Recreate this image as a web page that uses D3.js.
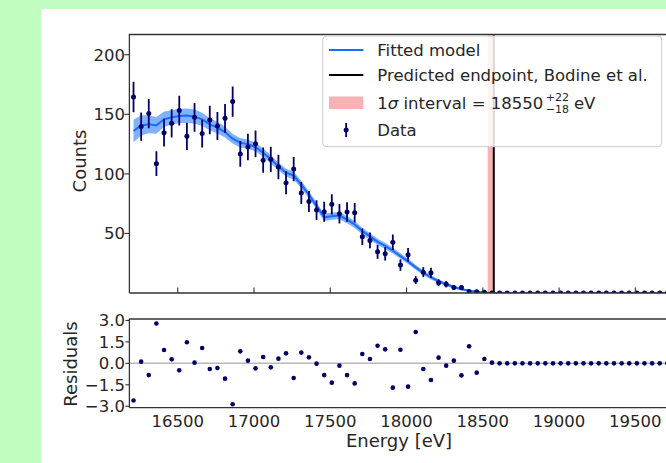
<!DOCTYPE html>
<html><head><meta charset="utf-8">
<script src="https://cdn.jsdelivr.net/npm/d3@7"></script>
<style>html,body{margin:0;padding:0;background:#c1fcc1;}svg{display:block;font-family:"DejaVu Sans",sans-serif;}</style>
</head><body>
<svg id="c" width="666" height="463"></svg>
<script>
const energy = [16210,16260,16310,16360,16410,16460,16510,16560,16610,16660,16710,16760,16810,16860,16910,16960,17010,17060,17110,17160,17210,17260,17310,17360,17410,17460,17510,17560,17610,17660,17710,17760,17810,17860,17910,17960,18010,18060,18110,18160,18210,18260,18310,18360,18410,18460,18510,18560,18610,18660,18710,18760,18810,18860,18910,18960,19010,19060,19110,19160,19210,19260,19310,19360,19410,19460,19510,19560,19610,19660,19710,19760,19810];
const counts = [164.5,139.7,150.6,108.6,134.6,142.4,153.1,131.5,147.5,133.8,145.2,140.2,146.6,160.7,116.7,122.5,125.2,111.5,112.2,105.7,92.6,104.0,83.9,76.9,69.6,68.2,74.4,66.5,68.0,67.4,47.2,44.1,34.6,32.9,42.7,23.4,32.1,10.8,17.5,17.0,8.6,7.4,4.6,4.6,1.3,1.0,0.6,0,0,0,0,0,0,0,0,0,0,0,0,0,0,0,0,0,0,0,0,0,0,0,0,0,0];
const countErr = [12.8,11.8,12.3,10.4,11.6,11.9,12.4,11.5,12.1,11.6,12.0,11.8,12.1,12.7,10.8,11.1,11.2,10.6,10.6,10.3,9.6,10.2,9.2,8.8,8.3,8.3,8.6,8.2,8.2,8.2,6.9,6.6,5.9,5.7,6.5,4.8,5.7,3.3,4.2,4.1,2.9,2.7,2.1,2.1,1.1,1.0,0.8,0,0,0,0,0,0,0,0,0,0,0,0,0,0,0,0,0,0,0,0,0,0,0,0,0,0];
const model = [136,140.7,141.6,140.7,145.8,147.5,148.6,148.9,148,145.8,141.6,138.8,135.1,129.5,126.2,124.8,122.5,117.8,112.2,106.3,101,98.5,91,82.5,73,63.5,64.5,65,61.5,57.5,52,47.5,43,39.5,35.5,31,26.5,21.5,17,13.2,10,7.3,5,3.2,2,1.1,0.5,0.1,0,0,0,0,0,0,0,0,0,0,0,0,0,0,0,0,0,0,0,0,0,0,0,0,0];
const modelBand = [9.5,8.5,7.5,7,6.5,6,6,6,6,5.5,5,5,4.5,4,4,3.8,3.6,3.5,3.4,3.3,3.2,3.2,3.2,3,3,3,3,3,3,3,2.8,2.7,2.6,2.5,2.4,2.3,2.2,2,1.9,1.8,1.6,1.4,1.2,1,0.8,0.6,0.4,0.2,0,0,0,0,0,0,0,0,0,0,0,0,0,0,0,0,0,0,0,0,0,0,0,0,0];
const residuals = [-2.6,0.12,-0.82,2.79,0.93,0.28,-0.49,1.47,0.05,1.07,-0.40,-0.33,-1.07,-2.86,0.84,0.19,-0.35,0.44,-0.28,0.33,0.70,-1.02,0.75,0.42,-0.02,-0.82,-1.35,-0.16,-0.82,-1.40,0.65,0.30,1.23,0.98,-1.70,0.95,-1.63,2.19,-0.40,-1.16,0.40,-0.16,0.19,-0.84,1.19,-0.65,0.30,0.05,0,0,0,0,0,0,0,0,0,0,0,0,0,0,0,0,0,0,0,0,0,0,0,0,0];
const xTicks = [16500,17000,17500,18000,18500,19000,19500];
const yTicksTop = [50,100,150,200];
const yTicksRes = [-3.0,-1.5,0.0,1.5,3.0];
const endpointFit = 18550, endpointLo = 18532, endpointHi = 18572;
const endpointBodine = 18572;
const legendLabels = ["Fitted model","Predicted endpoint, Bodine et al.","1σ interval = 18550","Data"];

const svg = d3.select("#c");
const W = 666, H = 463;
svg.append("rect").attr("x",0).attr("y",0).attr("width",W).attr("height",H).attr("fill","#c1fcc1");
svg.append("rect").attr("x",41).attr("y",9).attr("width",W-41).attr("height",H-9).attr("fill","#ffffff");

const L = 129.4, R = 681.1;
const x = d3.scaleLinear().domain([16183,19800]).range([L,R]);
const topT = 34.5, topB = 293;
const y = d3.scaleLinear().domain([0,217]).range([topB,topT]);
const resT = 319, resB = 407.7;
const yr = d3.scaleLinear().domain([-3.1,3.1]).range([resB,resT]);
const axisCol = "#333333", textCol = "#262626";
const data = energy.map((e,i)=>({e, c:counts[i], err:countErr[i], m:model[i], b:modelBand[i], r:residuals[i]}));

const defs = svg.append("defs");
defs.append("clipPath").attr("id","clipTop").append("rect").attr("x",L).attr("y",topT).attr("width",R-L).attr("height",topB-topT);
defs.append("clipPath").attr("id","clipRes").append("rect").attr("x",L).attr("y",resT).attr("width",R-L).attr("height",resB-resT);

// ---- Top panel ----
const gTop = svg.append("g").attr("clip-path","url(#clipTop)");
gTop.append("rect").attr("x",x(endpointLo)).attr("y",topT).attr("width",x(endpointHi)-x(endpointLo)).attr("height",topB-topT).attr("fill","#f08080").attr("opacity",0.6);
gTop.append("line").attr("x1",x(endpointBodine)).attr("x2",x(endpointBodine)).attr("y1",topT).attr("y2",topB).attr("stroke","#000").attr("stroke-width",2);
gTop.append("path").datum(data).attr("fill","#1a72ff").attr("opacity",0.55)
  .attr("d", d3.area().x(d=>x(d.e)).y0(d=>y(d.m-d.b)).y1(d=>y(d.m+d.b)));
gTop.append("path").datum(data).attr("fill","none").attr("stroke","#1a6cff").attr("stroke-width",2)
  .attr("d", d3.line().x(d=>x(d.e)).y(d=>y(d.m)));
gTop.selectAll("line.err").data(data.filter(d=>d.err>0)).enter().append("line")
  .attr("x1",d=>x(d.e)).attr("x2",d=>x(d.e)).attr("y1",d=>y(d.c-d.err)).attr("y2",d=>y(d.c+d.err))
  .attr("stroke","#000066").attr("stroke-width",1.8);
gTop.selectAll("circle").data(data).enter().append("circle")
  .attr("cx",d=>x(d.e)).attr("cy",d=>y(d.c)).attr("r",2.5).attr("fill","#000066");

// frame top
const fTop = svg.append("g");
fTop.append("path").attr("d",`M${L},${topB}V${topT}H${W+10}M${L},${topB}H${W+10}`).attr("fill","none").attr("stroke",axisCol).attr("stroke-width",1.3);
xTicks.forEach(t=>{
  fTop.append("line").attr("x1",x(t)).attr("x2",x(t)).attr("y1",topB).attr("y2",topB-5.5).attr("stroke",axisCol).attr("stroke-width",1.1);
});
yTicksTop.forEach(t=>{
  fTop.append("line").attr("x1",L-5).attr("x2",L).attr("y1",y(t)).attr("y2",y(t)).attr("stroke",axisCol).attr("stroke-width",1.1);
  fTop.append("text").attr("x",L-4.5).attr("y",y(t)).attr("dy","0.36em").attr("text-anchor","end").attr("font-size",16.5).attr("fill",textCol).text(t);
});
svg.append("text").attr("transform","translate(85.5,161) rotate(-90)").attr("text-anchor","middle").attr("font-size",18).attr("fill",textCol).text("Counts");

// legend
const lg = svg.append("g");
lg.append("rect").attr("x",322.7).attr("y",36).attr("width",339).attr("height",110.7).attr("rx",4)
  .attr("fill","#ffffff").attr("fill-opacity",0.85).attr("stroke","#cccccc").attr("stroke-width",1);
const hx0 = 329, hx1 = 363.3, tx = 377.3;
const rowsY = [50,75,102.5,130];
lg.append("line").attr("x1",hx0).attr("x2",hx1).attr("y1",rowsY[0]).attr("y2",rowsY[0]).attr("stroke","#1a6cff").attr("stroke-width",2);
lg.append("line").attr("x1",hx0).attr("x2",hx1).attr("y1",rowsY[1]).attr("y2",rowsY[1]).attr("stroke","#000").attr("stroke-width",2);
lg.append("rect").attr("x",hx0).attr("y",rowsY[2]-6).attr("width",hx1-hx0).attr("height",12.5).attr("fill","#f08080").attr("opacity",0.6);
lg.append("line").attr("x1",(hx0+hx1)/2).attr("x2",(hx0+hx1)/2).attr("y1",rowsY[3]-7).attr("y2",rowsY[3]+7).attr("stroke","#000066").attr("stroke-width",1.8);
lg.append("circle").attr("cx",(hx0+hx1)/2).attr("cy",rowsY[3]).attr("r",2.5).attr("fill","#000066");
const fs = 16.5;
lg.append("text").attr("x",tx).attr("y",rowsY[0]+6).attr("font-size",fs).attr("fill",textCol).text(legendLabels[0]);
lg.append("text").attr("x",tx).attr("y",rowsY[1]+6).attr("font-size",fs).attr("fill",textCol).text(legendLabels[1]);
const t3 = lg.append("text").attr("x",tx).attr("y",rowsY[2]+6).attr("font-size",fs).attr("fill",textCol);
t3.append("tspan").text("1");
t3.append("tspan").attr("font-style","italic").text("σ");
t3.append("tspan").text(legendLabels[2].slice(2));
const w3 = t3.node().getComputedTextLength();
const sx = tx + w3 + 2.5;
const sup = lg.append("text").attr("x",sx).attr("y",rowsY[2]-2).attr("font-size",11).attr("fill",textCol).text("+22");
const sub = lg.append("text").attr("x",sx).attr("y",rowsY[2]+10.5).attr("font-size",11).attr("fill",textCol).text("−18");
const sw = Math.max(sup.node().getComputedTextLength(), sub.node().getComputedTextLength());
lg.append("text").attr("x",sx+sw+5).attr("y",rowsY[2]+6).attr("font-size",fs).attr("fill",textCol).text("eV");
lg.append("text").attr("x",tx).attr("y",rowsY[3]+6).attr("font-size",fs).attr("fill",textCol).text(legendLabels[3]);

// ---- Residual panel ----
const gRes = svg.append("g").attr("clip-path","url(#clipRes)");
gRes.append("line").attr("x1",L).attr("x2",R).attr("y1",yr(0)).attr("y2",yr(0)).attr("stroke","#b8b8b8").attr("stroke-width",1.5);
gRes.selectAll("circle").data(data).enter().append("circle")
  .attr("cx",d=>x(d.e)).attr("cy",d=>yr(d.r)).attr("r",2.3).attr("fill","#000066");
const fRes = svg.append("g");
fRes.append("path").attr("d",`M${L},${resB}V${resT}H${W+10}M${L},${resB}H${W+10}`).attr("fill","none").attr("stroke",axisCol).attr("stroke-width",1.3);
yTicksRes.forEach(t=>{
  fRes.append("line").attr("x1",L-4).attr("x2",L).attr("y1",yr(t)).attr("y2",yr(t)).attr("stroke",axisCol).attr("stroke-width",1.1);
  fRes.append("text").attr("x",L-4.5).attr("y",yr(t)).attr("dy","0.36em").attr("text-anchor","end").attr("font-size",16.5).attr("fill",textCol)
    .text(d3.format(".1f")(t).replace("-","−"));
});
xTicks.forEach(t=>{
  fRes.append("text").attr("x",x(t)).attr("y",426.5).attr("text-anchor","middle").attr("font-size",16.5).attr("fill",textCol).text(t);
});
svg.append("text").attr("transform","translate(76.5,364) rotate(-90)").attr("text-anchor","middle").attr("font-size",18).attr("fill",textCol).text("Residuals");
svg.append("text").attr("x",399).attr("y",447).attr("text-anchor","middle").attr("font-size",18).attr("fill",textCol).text("Energy [eV]");
</script>
</body></html>
